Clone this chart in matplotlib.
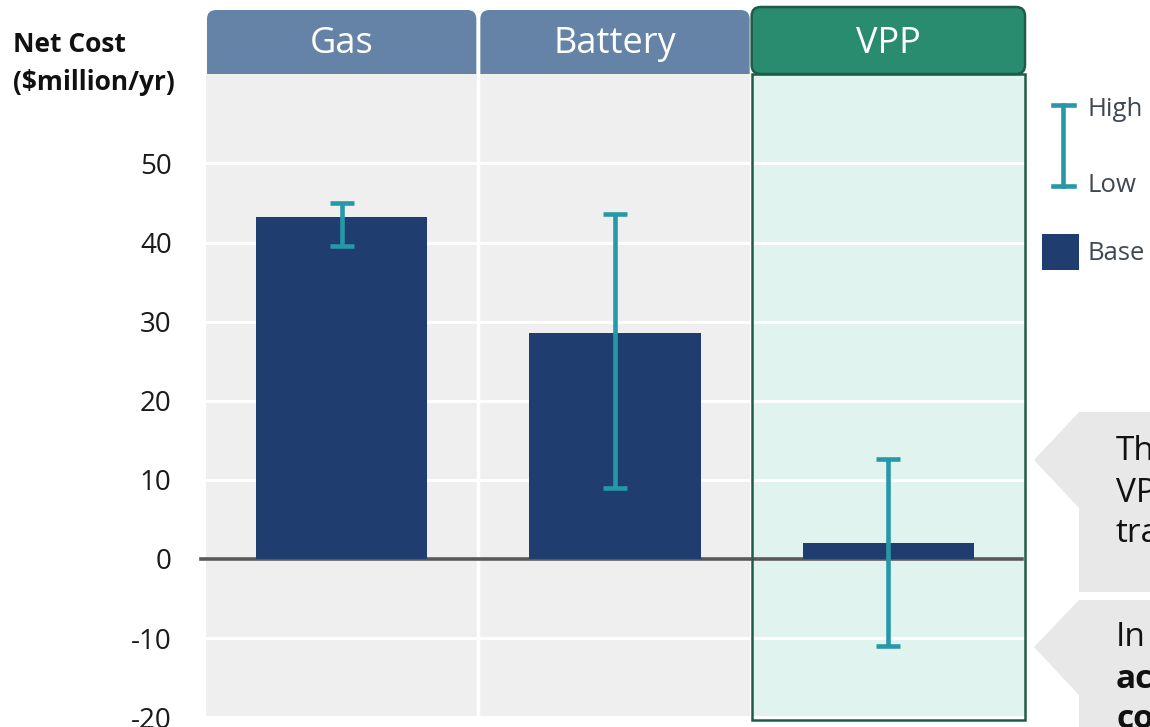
import matplotlib
matplotlib.use("Agg")
import matplotlib.pyplot as plt
from matplotlib.patches import FancyBboxPatch, Rectangle, Polygon
from matplotlib.lines import Line2D
import numpy as np

plt.rcParams['font.family'] = ['Open Sans', 'DejaVu Sans']

categories = ['Gas', 'Battery', 'VPP']
base = [43.2, 28.5, 2.0]
high = [45.0, 43.6, 12.7]
low = [39.5, 9.0, -11.0]
yticks = [-20, -10, 0, 10, 20, 30, 40, 50]

W, H = 1150, 727
bar_col = '#1f3d6f'
err_col = '#2798a8'
head_col = '#6483a6'
vpp_head = '#2a8c6f'
vpp_edge = '#1f5c48'
vpp_bg = '#e0f3ef'
grey_bg = '#efefef'


def fpt(x, y):
    # pixel position -> figure fraction
    return x / W, 1 - y / H


fig = plt.figure(figsize=(W / 100, H / 100), dpi=100)
ax = fig.add_axes([205 / W, 1 - 718 / H, 820 / W, 644 / H])
ax.set_xlim(-0.5, 2.5)
ax.set_ylim(-20.1, 61.3)
ax.set_facecolor('white')

x = np.arange(len(categories))

# column backgrounds
for i in x:
    if categories[i] == 'VPP':
        ax.add_patch(Rectangle((i - 0.5, -20.1), 1.0, 81.4, facecolor=vpp_bg,
                               edgecolor='none', zorder=0))
    else:
        ax.add_patch(Rectangle((i - 0.495, -20.1), 0.99, 81.4, facecolor=grey_bg,
                               edgecolor='none', zorder=0))

for t in yticks:
    ax.axhline(t, color='white', lw=2.2, zorder=1)
ax.axvline(0.5, color='white', lw=2.5, zorder=1)

# zero line
ax.plot([-0.515, 2.49], [0, 0], color='#595959', lw=2.6, zorder=2, clip_on=False)

ax.bar(x, base, width=0.626, color=bar_col, zorder=3)
yerr = [np.array(base) - np.array(low), np.array(high) - np.array(base)]
ax.errorbar(x, base, yerr=yerr, fmt='none', ecolor=err_col, elinewidth=3.3,
            capsize=8.5, capthick=3.3, zorder=4)

# VPP column outline
ax.add_patch(Rectangle((1.5, -20.35), 1.0, 81.65, facecolor='none',
                       edgecolor=vpp_edge, lw=1.8, zorder=5, clip_on=False))

ax.set_yticks(yticks)
ax.set_yticklabels([str(t) for t in yticks], fontsize=20, color='#1a1a1a')
ax.tick_params(axis='y', length=0, pad=24)
ax.set_xticks([])
for s in ax.spines.values():
    s.set_visible(False)

# column headers
for i, name in enumerate(categories):
    x0 = ax.transData.transform((i - 0.5, 0))[0] / fig.dpi
    x1 = ax.transData.transform((i + 0.5, 0))[0] / fig.dpi
    bot = (H - 74) / 100
    if name == 'VPP':
        top = (H - 7) / 100
        p = FancyBboxPatch((x0, bot), x1 - x0, top - bot,
                           boxstyle='round,pad=0,rounding_size=0.09',
                           facecolor=vpp_head, edgecolor=vpp_edge, lw=1.8,
                           transform=fig.dpi_scale_trans, zorder=2)
    else:
        top = (H - 10) / 100
        p = FancyBboxPatch((x0 + 0.02, bot - 0.12), x1 - x0 - 0.04, top - bot + 0.12,
                           boxstyle='round,pad=0,rounding_size=0.09',
                           facecolor=head_col, edgecolor='none',
                           transform=fig.dpi_scale_trans, zorder=-1)
    fig.add_artist(p)
    fig.text((x0 + x1) / 2 * 100 / W, 1 - 44 / H, name, ha='center', va='center',
             fontsize=26, color='white', zorder=3)

# y label
fig.text(*fpt(13, 44), 'Net Cost', fontsize=19, fontweight='bold', va='center',
         color='#111111')
fig.text(*fpt(13, 83), '($million/yr)', fontsize=19, fontweight='bold',
         va='center', color='#111111')

# legend
lx = 1063
fig.add_artist(Line2D([lx / W, lx / W], [1 - 105 / H, 1 - 186 / H],
                      color=err_col, lw=3.3))
for yy in (105, 186):
    fig.add_artist(Line2D([(lx - 10.5) / W, (lx + 10.5) / W], [1 - yy / H] * 2,
                          color=err_col, lw=3.3))
fig.add_artist(Rectangle(fpt(1042, 270), 37 / W, 36 / H, facecolor=bar_col,
                         edgecolor='none', transform=fig.transFigure))
for label, yy in (('High', 110), ('Low', 185), ('Base', 253)):
    fig.text(*fpt(1088, yy), label, fontsize=18.5, color='#3f4852', va='center')

# callouts
call_col = '#e8e8e8'
fig.add_artist(Polygon([fpt(1079, 412), fpt(1150, 412), fpt(1150, 592),
                        fpt(1079, 592), fpt(1079, 508), fpt(1034, 460)],
                       closed=True, facecolor=call_col, edgecolor='none',
                       transform=fig.transFigure))
fig.add_artist(Polygon([fpt(1079, 600), fpt(1150, 600), fpt(1150, 727),
                        fpt(1079, 727), fpt(1079, 695), fpt(1034, 647)],
                       closed=True, facecolor=call_col, edgecolor='none',
                       transform=fig.transFigure))
for txt, yy, wt in (('The', 452, 'normal'), ('VPP', 493, 'normal'),
                    ('tra', 534, 'normal'), ('In', 638, 'normal'),
                    ('ac', 679, 'bold'), ('co', 720, 'bold')):
    fig.text(*fpt(1116, yy), txt, fontsize=24, fontweight=wt, va='center',
             color='#111111')

fig.savefig('out.png', dpi=100)
